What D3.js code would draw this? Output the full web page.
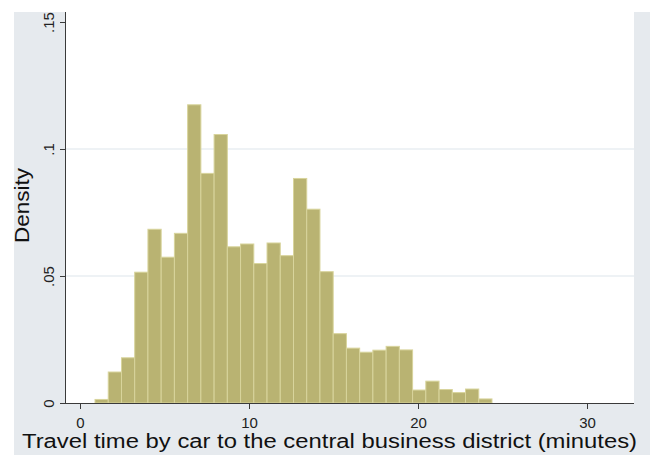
<!DOCTYPE html>
<html>
<head>
<meta charset="utf-8">
<script src="https://cdn.jsdelivr.net/npm/d3@7"></script>
<style>
  html, body { margin: 0; padding: 0; background: #ffffff; }
  svg { display: block; font-family: "Liberation Sans", Arial, sans-serif; }
</style>
</head>
<body>
<svg id="chart" width="660" height="455"></svg>
<script>
// Histogram of car travel time to the CBD (density scale)
const binStart = 0.888;   // left edge of the first bin (minutes)
const binWidth = 0.783;   // bin width (minutes)
const densities = [
  0.0014, 0.0122, 0.0178, 0.0515, 0.0684, 0.0574, 0.0668, 0.1174, 0.0904, 0.1057,
  0.0615, 0.0626, 0.0549, 0.0630, 0.0580, 0.0884, 0.0763, 0.0517, 0.0273, 0.0216,
  0.0200, 0.0208, 0.0223, 0.0209, 0.0051, 0.0086, 0.0053, 0.0041, 0.0055, 0.0016
];
const xTicks = [0, 10, 20, 30];
const yTicks = [0, 0.05, 0.1, 0.15];
const yTickLabels = ["0", ".05", ".1", ".15"];
const xTitle = "Travel time by car to the central business district (minutes)";
const yTitle = "Density";

const bins = densities.map((d, i) => ({
  x0: binStart + i * binWidth,
  x1: binStart + (i + 1) * binWidth,
  density: d
}));

const svg = d3.select("#chart");
const outer = { left: 14, top: 12, right: 650, bottom: 455 };
const plot = { left: 66, top: 12, right: 634, bottom: 403 };

// graph region background
svg.append("rect")
  .attr("x", outer.left).attr("y", outer.top)
  .attr("width", outer.right - outer.left).attr("height", outer.bottom - outer.top)
  .attr("fill", "#e6eaee");

// plot region
svg.append("rect")
  .attr("x", plot.left).attr("y", plot.top)
  .attr("width", plot.right - plot.left).attr("height", plot.bottom - plot.top)
  .attr("fill", "#ffffff");

const x = d3.scaleLinear().domain([0, 30]).range([80, 587]);
const y = d3.scaleLinear().domain([0, 0.15]).range([403, 22]);

// horizontal grid lines
svg.append("g")
  .selectAll("line")
  .data(yTicks.filter(t => t > 0 && t < 0.15))
  .join("line")
  .attr("x1", plot.left).attr("x2", plot.right)
  .attr("y1", d => y(d)).attr("y2", d => y(d))
  .attr("stroke", "#dde5ec").attr("stroke-width", 1.2);

// bars
svg.append("g")
  .selectAll("rect")
  .data(bins)
  .join("rect")
  .attr("x", d => x(d.x0))
  .attr("y", d => y(d.density))
  .attr("width", d => x(d.x1) - x(d.x0))
  .attr("height", d => y(0) - y(d.density))
  .attr("fill", "#b9b372")
  .attr("stroke", "#d8d49c")
  .attr("stroke-width", 1);

// x axis
const xAxis = d3.axisBottom(x).tickValues(xTicks).tickSize(6).tickPadding(8)
  .tickFormat(d3.format("d"));
const gx = svg.append("g").attr("transform", `translate(0,${plot.bottom})`).call(xAxis);
gx.select(".domain").remove();
gx.append("line")
  .attr("x1", plot.left).attr("x2", plot.right)
  .attr("y1", 0.5).attr("y2", 0.5)
  .attr("stroke", "#3a3a3a");
gx.selectAll(".tick line").attr("stroke", "#3a3a3a");
gx.selectAll(".tick text")
  .attr("fill", "#222").attr("font-size", 15)
  .attr("font-family", "Liberation Sans, Arial, sans-serif");

// y axis
const yAxis = d3.axisLeft(y).tickValues(yTicks).tickSize(6).tickPadding(4)
  .tickFormat((d, i) => yTickLabels[i]);
const gy = svg.append("g").attr("transform", `translate(${plot.left},0)`).call(yAxis);
gy.select(".domain").remove();
gy.append("line")
  .attr("x1", -0.5).attr("x2", -0.5)
  .attr("y1", plot.top).attr("y2", plot.bottom)
  .attr("stroke", "#3a3a3a");
gy.selectAll(".tick line").attr("stroke", "#3a3a3a");
gy.selectAll(".tick text")
  .attr("fill", "#222").attr("font-size", 15)
  .attr("font-family", "Liberation Sans, Arial, sans-serif")
  .attr("text-anchor", "middle")
  .attr("dy", null)
  .attr("x", null)
  .attr("transform", "translate(-18,0) rotate(-90)")
  .attr("dominant-baseline", "central");

// axis titles
svg.append("text")
  .attr("x", 22).attr("y", 448)
  .attr("font-size", 20).attr("fill", "#111")
  .attr("textLength", 615).attr("lengthAdjust", "spacingAndGlyphs")
  .text(xTitle);

svg.append("text")
  .attr("transform", `translate(29,243) rotate(-90)`)
  .attr("font-size", 20).attr("fill", "#111")
  .attr("textLength", 75).attr("lengthAdjust", "spacingAndGlyphs")
  .text(yTitle);
</script>
</body>
</html>
